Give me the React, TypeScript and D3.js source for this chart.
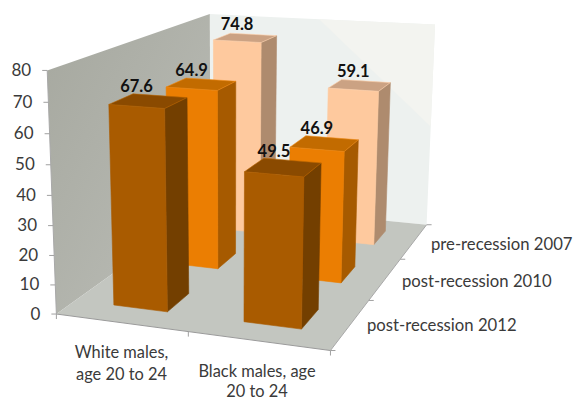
import React from "react";
import * as d3 from "d3";

const categories = ["White males, age 20 to 24", "Black males, age 20 to 24"];
const categoryLines = [["White males,", "age 20 to 24"], ["Black males, age", "20 to 24"]];
const seriesNames = ["pre-recession 2007", "post-recession 2010", "post-recession 2012"];
const pre2007 = [74.8, 59.1];
const post2010 = [64.9, 46.9];
const post2012 = [67.6, 49.5];
const seriesValues = [pre2007, post2010, post2012];
const yTicks = [0, 10, 20, 30, 40, 50, 60, 70, 80];
const seriesColors = [
  { front: "#FEC99E", side: "#AE8B6E", top: "#CBA283", edge: "#FFD2AC" },
  { front: "#EB7E02", side: "#A65A00", top: "#C26B00", edge: "#F08A14" },
  { front: "#A95B00", side: "#733F00", top: "#8A4A00", edge: "#B86400" },
];

// Unit-cube corners of the plot box (x, depth, value) and where they appear on screen.
const anchors: [number, number, number, number, number][] = [
  [0, 0, 0, 57, 314],
  [1, 0, 0, 330, 351],
  [0, 1, 0, 210, 204],
  [1, 1, 0, 427, 224],
  [0, 0, 1, 47, 70],
  [0, 1, 1, 210, 14],
  [1, 1, 1, 435, 25],
];

function solve(A: number[][], b: number[]) {
  const n = b.length;
  const M = A.map((r, i) => [...r, b[i]]);
  for (let i = 0; i < n; i++) {
    let p = i;
    for (let k = i + 1; k < n; k++) if (Math.abs(M[k][i]) > Math.abs(M[p][i])) p = k;
    [M[i], M[p]] = [M[p], M[i]];
    for (let k = 0; k < n; k++) {
      if (k === i) continue;
      const f = M[k][i] / M[i][i];
      for (let j = i; j <= n; j++) M[k][j] -= f * M[i][j];
    }
  }
  return M.map((r, i) => r[n] / r[i]);
}

function fitCamera() {
  const rows: number[][] = [];
  const rhs: number[] = [];
  anchors.forEach(([x, z, v, sx, sy]) => {
    rows.push([x, z, v, 1, 0, 0, 0, 0, -sx * x, -sx * z, -sx * v]);
    rhs.push(sx);
    rows.push([0, 0, 0, 0, x, z, v, 1, -sy * x, -sy * z, -sy * v]);
    rhs.push(sy);
  });
  const AtA = d3.range(11).map((i) =>
    d3.range(11).map((j) => d3.sum(rows, (r) => r[i] * r[j]))
  );
  const Atb = d3.range(11).map((i) => d3.sum(rows, (r, k) => r[i] * rhs[k]));
  return solve(AtA, Atb);
}
const cam = fitCamera();
const project = (x: number, z: number, v: number): [number, number] => {
  const w = cam[8] * x + cam[9] * z + cam[10] * v + 1;
  return [
    (cam[0] * x + cam[1] * z + cam[2] * v + cam[3]) / w,
    (cam[4] * x + cam[5] * z + cam[6] * v + cam[7]) / w,
  ];
};

const xBand = d3.scaleBand<string>().domain(categories).range([0, 1]).paddingInner(0.58).paddingOuter(0.3).align(0.51);
// depth: front (0) holds the last series
const zBand = d3.scaleBand<string>().domain([...seriesNames].reverse()).range([0, 1]).paddingInner(0.6).paddingOuter(0.3);
const yScale = d3.scaleLinear().domain([0, 80]).range([0, 1]);

const poly = (pts: [number, number][]) => d3.line()(pts)! + "Z";

const FONT = "Lato, 'Open Sans', sans-serif";
const TEXT = "#3a3a3a";

export default function App() {
  const wall = poly([project(0, 1, 0), project(1, 1, 0), project(1, 1, 1), project(0, 1, 1)]);
  const wallLight = poly([project(0.5, 1, 1), project(1, 1, 0.5), project(1, 1, 1)]);
  const side = poly([project(0, 0, 0), project(0, 1, 0), project(0, 1, 1), project(0, 0, 1)]);
  const floor = poly([project(0, 0, 0), project(1, 0, 0), project(1, 1, 0), project(0, 1, 0)]);

  const bars: React.ReactNode[] = [];
  const labels: React.ReactNode[] = [];
  seriesNames.forEach((s, si) => {
    categories.forEach((c, ci) => {
      const x0 = xBand(c)!;
      const x1 = x0 + xBand.bandwidth();
      const z0 = zBand(s)!;
      const z1 = z0 + zBand.bandwidth();
      const val = seriesValues[si][ci];
      const v = yScale(val);
      const col = seriesColors[si];
      const front = poly([project(x0, z0, 0), project(x1, z0, 0), project(x1, z0, v), project(x0, z0, v)]);
      const right = poly([project(x1, z0, 0), project(x1, z1, 0), project(x1, z1, v), project(x1, z0, v)]);
      const top = poly([project(x0, z0, v), project(x1, z0, v), project(x1, z1, v), project(x0, z1, v)]);
      bars.push(
        <g key={s + c} strokeWidth={0.6} strokeLinejoin="round">
          <path d={right} fill={col.side} stroke={col.side} />
          <path d={front} fill={col.front} stroke={col.front} />
          <path d={top} fill={col.top} stroke={col.edge} />
        </g>
      );
      const [lx] = project((x0 + x1) / 2, z0, v);
      const [, ly] = project((x0 + x1) / 2, z1, v);
      labels.push(
        <text key={s + c} x={lx} y={ly - 4} textAnchor="middle" fontWeight={700} fontSize={16.5} fill="#111" fontFamily={FONT}>
          {val.toFixed(1)}
        </text>
      );
    });
  });

  return (
    <svg width={573} height={401} style={{ position: "absolute", left: 0, top: 0, background: "#fff" }}>
      <defs>
        <linearGradient id="sideG" x1="0" y1="0" x2="1" y2="1">
          <stop offset="0" stopColor="#A6A89F" />
          <stop offset="1" stopColor="#BCBEB8" />
        </linearGradient>
      </defs>
      <path d={wall} fill="#EDF1EF" />
      <path d={wallLight} fill="#F3F4F0" />
      <path d={side} fill="url(#sideG)" />
      <path d={floor} fill="#C3C6C0" />
      {/* axis lines */}
      <path d={d3.line()([project(0, 0, 0), project(0, 0, 1)])!} stroke="#A8A8A8" strokeWidth={1} fill="none" />
      <path d={d3.line()([project(0, 0, 0), project(1, 0, 0)])!} stroke="#9A9A9A" strokeWidth={1} fill="none" />
      <path d={d3.line()([project(1, 0, 0), project(1, 1, 0)])!} stroke="#A8A8A8" strokeWidth={1} fill="none" />
      {yTicks.map((t) => {
        const [px, py] = project(0, 0, yScale(t));
        return (
          <g key={t}>
            <line x1={px - 5} x2={px} y1={py} y2={py} stroke="#A0A0A0" />
            <text x={px - 16} y={py + 5.5} textAnchor="end" fontSize={17} fill={TEXT} fontFamily={FONT}>{t}</text>
          </g>
        );
      })}
      {d3.range(categories.length + 1).map((i) => {
        const [px, py] = project(i / categories.length, 0, 0);
        return <line key={i} x1={px} x2={px} y1={py} y2={py + 5} stroke="#A0A0A0" />;
      })}
      {d3.range(seriesNames.length + 1).map((i) => {
        const [px, py] = project(1, i / seriesNames.length, 0);
        return <line key={i} x1={px} x2={px + 5} y1={py} y2={py} stroke="#A0A0A0" />;
      })}
      {bars}
      {labels}
      {categoryLines.map((lines, i) => (
        <text key={i} textAnchor="middle" fontSize={16.4} fill={TEXT} fontFamily={FONT}>
          {lines.map((l, j) => (
            <tspan key={j} x={i === 0 ? 121.5 : 257} y={(i === 0 ? 358 : 377) + j * (i === 0 ? 22 : 20)}>{l}</tspan>
          ))}
        </text>
      ))}
      {seriesNames.map((s, i) => (
        <text key={s} x={[431, 402, 367][i]} y={[250, 287, 331][i]} fontSize={16.7} fill={TEXT} fontFamily={FONT}>{s}</text>
      ))}
    </svg>
  );
}
